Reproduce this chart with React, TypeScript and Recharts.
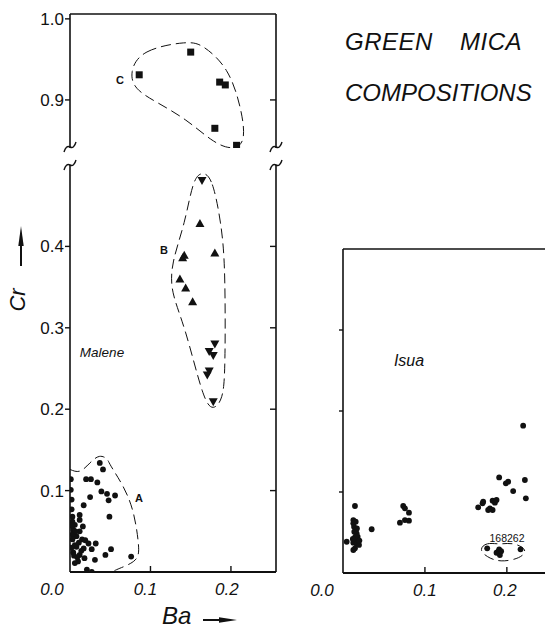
import React from "react";
import { ScatterChart, Scatter, XAxis, YAxis, ReferenceLine } from "recharts";

const INK = "#111";
const FONT = "'Liberation Sans', Arial, sans-serif";

// Malene group C (squares)
const maleneC: [number, number][] = [
  [0.086, 0.931], [0.15, 0.959], [0.186, 0.922], [0.193, 0.9185], [0.18, 0.865], [0.207, 0.844],
];

// Malene group B (up / down triangles)
const maleneBUp: [number, number][] = [
  [0.1615, 0.428], [0.18, 0.392], [0.142, 0.389], [0.14, 0.386], [0.1366, 0.36], [0.1437, 0.349], [0.1524, 0.332],
];
const maleneBDown: [number, number][] = [
  [0.164, 0.481], [0.18, 0.28], [0.173, 0.271], [0.178, 0.266], [0.173, 0.247], [0.1706, 0.242], [0.178, 0.209],
];

// Malene group A (dots)
const maleneA: [number, number][] = [
  [0.037, 0.134], [0.041, 0.126], [0.001, 0.114], [0.02, 0.114], [0.026, 0.114], [0.034, 0.11],
  [0.001, 0.101], [0.039, 0.099], [0.046, 0.096], [0.056, 0.094], [0.025, 0.092], [0.002, 0.089],
  [0.048, 0.088], [0.017, 0.082], [0.002, 0.077], [0.012, 0.07], [0.049, 0.068], [0.012, 0.064],
  [0.006, 0.058], [0.003, 0.068], [0.003, 0.062], [0.004, 0.052], [0.012, 0.05], [0.008, 0.044],
  [0.003, 0.046], [0.003, 0.04], [0.015, 0.04], [0.023, 0.035], [0.032, 0.035], [0.006, 0.033],
  [0.017, 0.029], [0.027, 0.028], [0.051, 0.028], [0.044, 0.021], [0.012, 0.021], [0.004, 0.024],
  [0.031, 0.015], [0.076, 0.019], [0.01, 0.013], [0.006, 0.011], [0.021, 0.003], [0.027, 0.0],
  [0.008, 0.031], [0.014, 0.026], [0.018, 0.017], [0.009, 0.018], [0.002, 0.03], [0.016, 0.056],
  [0.002, 0.057], [0.007, 0.05], [0.011, 0.036], [0.019, 0.039], [0.005, 0.02],
];

// Isua (dots)
const isua: [number, number][] = [
  [0.0146, 0.0827], [0.0126, 0.0654], [0.0126, 0.0613], [0.0155, 0.0633], [0.0138, 0.051], [0.0167, 0.049],
  [0.0179, 0.0448], [0.0146, 0.0416], [0.0187, 0.0407], [0.0126, 0.0374], [0.0167, 0.0358], [0.0195, 0.0346],
  [0.0146, 0.0305], [0.0126, 0.0284], [0.0045, 0.0386], [0.0135, 0.057], [0.017, 0.055], [0.015, 0.045],
  [0.02, 0.04], [0.012, 0.042], [0.035, 0.054],
  [0.0735, 0.0827], [0.0756, 0.0799], [0.0805, 0.0745], [0.0695, 0.0621], [0.0756, 0.0654], [0.0805, 0.0646],
  [0.2199, 0.1819], [0.1906, 0.118], [0.1988, 0.1107], [0.2016, 0.1128], [0.2077, 0.1012], [0.222, 0.1148],
  [0.2232, 0.0922], [0.1711, 0.088], [0.1703, 0.086], [0.165, 0.081], [0.1826, 0.0893], [0.1874, 0.0901],
  [0.1854, 0.0868], [0.1793, 0.0799], [0.1826, 0.0778], [0.1772, 0.0778],
];
const isua168262: [number, number][] = [
  [0.176, 0.0305], [0.1894, 0.0263], [0.1874, 0.025], [0.1915, 0.0222], [0.1906, 0.0292], [0.2167, 0.0292], [0.193, 0.027],
];

// dashed envelopes
const envelopeC: [number, number][] = [
  [0.074, 0.934], [0.088, 0.962], [0.148, 0.973], [0.165, 0.968], [0.197, 0.94], [0.213, 0.89],
  [0.219, 0.846], [0.2, 0.838], [0.176, 0.849], [0.145, 0.876], [0.108, 0.897], [0.08, 0.913],
];
const envelopeB: [number, number][] = [
  [0.165, 0.492], [0.177, 0.484], [0.188, 0.428], [0.193, 0.377], [0.193, 0.246], [0.19, 0.212],
  [0.178, 0.198], [0.166, 0.21], [0.143, 0.302], [0.125, 0.344], [0.126, 0.38], [0.143, 0.428], [0.153, 0.484],
];
const envelopeA: [number, number][] = [
  [0, 0.126], [0.0124, 0.124], [0.0248, 0.134], [0.0364, 0.142], [0.0456, 0.139], [0.051, 0.13],
  [0.066, 0.105], [0.0787, 0.0725], [0.0849, 0.0354], [0.081, 0.0148], [0.062, 0.0046], [0.052, 0],
];
const envelope168262: [number, number][] = [
  [0.166, 0.029], [0.175, 0.038], [0.1915, 0.035], [0.207, 0.038], [0.226, 0.029], [0.217, 0.018],
  [0.1915, 0.013], [0.175, 0.02],
];

const baTicks = [0, 0.1, 0.2];
const lowerCrTicks = [0.1, 0.2, 0.3, 0.4];
const upperCrTicks = [0.9, 1.0];
const isuaCrTicks = [0.1, 0.2, 0.3];

const pts = (a: [number, number][]) => a.map(([x, y]) => ({ x, y }));

const Dot = (p: any) => <circle cx={p.cx} cy={p.cy} r={2.9} fill={INK} />;
const Square = (p: any) => <rect x={p.cx - 3.5} y={p.cy - 3.5} width={7} height={7} fill={INK} />;
const TriUp = (p: any) => (
  <polygon points={`${p.cx},${p.cy - 4.5} ${p.cx - 4.5},${p.cy + 3.5} ${p.cx + 4.5},${p.cy + 3.5}`} fill={INK} />
);
const TriDown = (p: any) => (
  <polygon points={`${p.cx},${p.cy + 4.5} ${p.cx - 4.5},${p.cy - 3.5} ${p.cx + 4.5},${p.cy - 3.5}`} fill={INK} />
);
const NoShape = () => <g />;

const dash = { stroke: INK, strokeWidth: 1, strokeDasharray: "10 5" };
const axisLine = { stroke: INK, strokeWidth: 1.6 };

type TickOpts = {
  side: "bottom" | "top" | "left" | "right";
  len: number;
  labels?: boolean;
  shift?: Record<string, number>;
};

const makeTick = (o: TickOpts) => (props: any) => {
  const { x, y, payload } = props;
  const v: number = payload.value;
  const txt = v.toFixed(1);
  const dx = o.shift?.[txt] ?? 0;
  let line = null;
  if (v !== 0 && o.len) {
    if (o.side === "bottom") line = <line x1={x} y1={y} x2={x} y2={y - o.len} stroke={INK} strokeWidth={1.4} />;
    if (o.side === "top") line = <line x1={x} y1={y} x2={x} y2={y + o.len} stroke={INK} strokeWidth={1.4} />;
    if (o.side === "left") line = <line x1={x} y1={y} x2={x - o.len} y2={y} stroke={INK} strokeWidth={1.4} />;
    if (o.side === "right") line = <line x1={x} y1={y} x2={x - o.len} y2={y} stroke={INK} strokeWidth={1.4} />;
  }
  let label = null;
  if (o.labels) {
    if (o.side === "bottom")
      label = (
        <text x={x + dx} y={y + 23} textAnchor="middle" fontSize={17} fontStyle="italic" fill={INK} fontFamily={FONT}>
          {txt}
        </text>
      );
    if (o.side === "left")
      label = (
        <text x={x - 6} y={y + 6} textAnchor="end" fontSize={17} fill={INK} fontFamily={FONT}>
          {txt}
        </text>
      );
  }
  return (
    <g>
      {line}
      {label}
    </g>
  );
};

const squiggle = (x: number, y: number) => `M ${x - 6} ${y + 5} q 2 -7 6 -5 t 6 -5`;

export default function App() {
  return (
    <div style={{ position: "absolute", left: 0, top: 0, width: 545, height: 629, overflow: "hidden", background: "#fff" }}>
      {/* Malene, upper segment (Cr 0.84 - 1.0) */}
      <div style={{ position: "absolute", left: 0, top: 0 }}>
        <ScatterChart width={300} height={160} margin={{ top: 13, right: 23, bottom: 12, left: 69 }}>
          <XAxis type="number" dataKey="x" domain={[0, 0.256]} allowDataOverflow hide />
          <XAxis
            xAxisId="t"
            orientation="top"
            type="number"
            domain={[0, 0.256]}
            allowDataOverflow
            ticks={[0.1, 0.2]}
            interval={0}
            height={1}
            tickSize={0}
            tickMargin={0}
            tickLine={false}
            axisLine={axisLine}
            tick={makeTick({ side: "top", len: 6 })}
          />
          <YAxis
            type="number"
            dataKey="y"
            domain={[0.8407, 1.006]}
            allowDataOverflow
            ticks={upperCrTicks}
            interval={0}
            width={1}
            tickSize={0}
            tickMargin={0}
            tickLine={false}
            axisLine={axisLine}
            tick={makeTick({ side: "left", len: 5, labels: true })}
          />
          <YAxis
            yAxisId="r"
            orientation="right"
            type="number"
            domain={[0.8407, 1.006]}
            allowDataOverflow
            ticks={[0.9]}
            interval={0}
            width={1}
            tickSize={0}
            tickMargin={0}
            tickLine={false}
            axisLine={axisLine}
            tick={makeTick({ side: "right", len: 6 })}
          />
          <Scatter data={pts(envelopeC)} line={dash} lineJointType="basisClosed" shape={NoShape} isAnimationActive={false} />
          <Scatter data={pts(maleneC)} shape={Square} isAnimationActive={false} />
        </ScatterChart>
      </div>

      {/* Malene, lower segment (Cr 0 - 0.5) */}
      <div style={{ position: "absolute", left: 0, top: 150 }}>
        <ScatterChart width={300} height={460} margin={{ top: 15, right: 23, bottom: 37, left: 69 }}>
          <XAxis
            type="number"
            dataKey="x"
            domain={[0, 0.256]}
            allowDataOverflow
            ticks={baTicks}
            interval={0}
            height={1}
            tickSize={0}
            tickMargin={0}
            tickLine={false}
            axisLine={axisLine}
            tick={makeTick({ side: "bottom", len: 6, labels: true, shift: { "0.0": -18, "0.1": -5, "0.2": -4 } })}
          />
          <YAxis
            type="number"
            dataKey="y"
            domain={[0, 0.5]}
            allowDataOverflow
            ticks={lowerCrTicks}
            interval={0}
            width={1}
            tickSize={0}
            tickMargin={0}
            tickLine={false}
            axisLine={axisLine}
            tick={makeTick({ side: "left", len: 5, labels: true })}
          />
          <YAxis
            yAxisId="r"
            orientation="right"
            type="number"
            domain={[0, 0.5]}
            allowDataOverflow
            ticks={lowerCrTicks}
            interval={0}
            width={1}
            tickSize={0}
            tickMargin={0}
            tickLine={false}
            axisLine={axisLine}
            tick={makeTick({ side: "right", len: 6 })}
          />
          <ReferenceLine y={0} stroke={INK} strokeWidth={1.8} ifOverflow="visible" />
          <Scatter data={pts(envelopeB)} line={dash} lineJointType="basisClosed" shape={NoShape} isAnimationActive={false} />
          <Scatter data={pts(envelopeA)} line={dash} lineJointType="natural" shape={NoShape} isAnimationActive={false} />
          <Scatter data={pts(maleneBUp)} shape={TriUp} isAnimationActive={false} />
          <Scatter data={pts(maleneBDown)} shape={TriDown} isAnimationActive={false} />
          <Scatter data={pts(maleneA)} shape={Dot} isAnimationActive={false} />
        </ScatterChart>
      </div>

      {/* Isua */}
      <div style={{ position: "absolute", left: 300, top: 230 }}>
        <ScatterChart width={260} height={380} margin={{ top: 18, right: 13, bottom: 36, left: 42 }}>
          <XAxis
            type="number"
            dataKey="x"
            domain={[0, 0.249]}
            allowDataOverflow
            ticks={baTicks}
            interval={0}
            height={1}
            tickSize={0}
            tickMargin={0}
            tickLine={false}
            axisLine={axisLine}
            tick={makeTick({ side: "bottom", len: 6, labels: true, shift: { "0.0": -21, "0.1": 0, "0.2": -2 } })}
          />
          <XAxis
            xAxisId="t"
            orientation="top"
            type="number"
            domain={[0, 0.249]}
            allowDataOverflow
            ticks={[0.1, 0.2]}
            interval={0}
            height={1}
            tickSize={0}
            tickMargin={0}
            tickLine={false}
            axisLine={axisLine}
            tick={makeTick({ side: "top", len: 5 })}
          />
          <YAxis
            type="number"
            dataKey="y"
            domain={[0, 0.4]}
            allowDataOverflow
            ticks={isuaCrTicks}
            interval={0}
            width={1}
            tickSize={0}
            tickMargin={0}
            tickLine={false}
            axisLine={axisLine}
            tick={makeTick({ side: "left", len: 4 })}
          />
          <ReferenceLine y={0} stroke={INK} strokeWidth={1.8} ifOverflow="visible" />
          <Scatter data={pts(envelope168262)} line={dash} lineJointType="basisClosed" shape={NoShape} isAnimationActive={false} />
          <Scatter data={pts(isua)} shape={Dot} isAnimationActive={false} />
          <Scatter data={pts(isua168262)} shape={Dot} isAnimationActive={false} />
        </ScatterChart>
      </div>

      {/* annotations, axis titles, breaks */}
      <svg width={545} height={629} style={{ position: "absolute", left: 0, top: 0, pointerEvents: "none" }}>
        <g fill="none" stroke={INK} strokeWidth={1.4}>
          <path d={squiggle(70, 147)} />
          <path d={squiggle(70, 165)} />
          <path d={squiggle(276, 147)} />
          <path d={squiggle(276, 165)} />
          <line x1={21} y1={266} x2={21} y2={240} strokeWidth={2} />
          <line x1={203} y1={620} x2={222} y2={620} strokeWidth={2} />
        </g>
        <g fill={INK}>
          <polygon points="21,226 18.3,246 23.7,246" />
          <polygon points="237,620 219,617.3 219,622.7" />
        </g>
        <g fill={INK} fontFamily={FONT}>
          <text x={345} y={50} fontSize={24} fontStyle="italic" letterSpacing={0.5}>GREEN</text>
          <text x={460} y={50} fontSize={24} fontStyle="italic" letterSpacing={0.5}>MICA</text>
          <text x={345} y={101} fontSize={24} fontStyle="italic" letterSpacing={0}>COMPOSITIONS</text>
          <text x={120} y={84} fontSize={11} fontWeight="bold" textAnchor="middle">C</text>
          <text x={164} y={254} fontSize={11} fontWeight="bold" textAnchor="middle">B</text>
          <text x={139} y={502} fontSize={11} fontWeight="bold" textAnchor="middle">A</text>
          <text x={102} y={357} fontSize={13.5} fontStyle="italic" textAnchor="middle">Malene</text>
          <text x={409} y={366} fontSize={16} fontStyle="italic" textAnchor="middle">Isua</text>
          <text x={507} y={542} fontSize={10.5} textAnchor="middle">168262</text>
          <text x={162} y={624} fontSize={24} fontStyle="italic">Ba</text>
          <text
            x={17}
            y={300}
            fontSize={22}
            fontStyle="italic"
            textAnchor="middle"
            dominantBaseline="central"
            transform="rotate(-90, 17, 300)"
          >
            Cr
          </text>
        </g>
      </svg>
    </div>
  );
}
